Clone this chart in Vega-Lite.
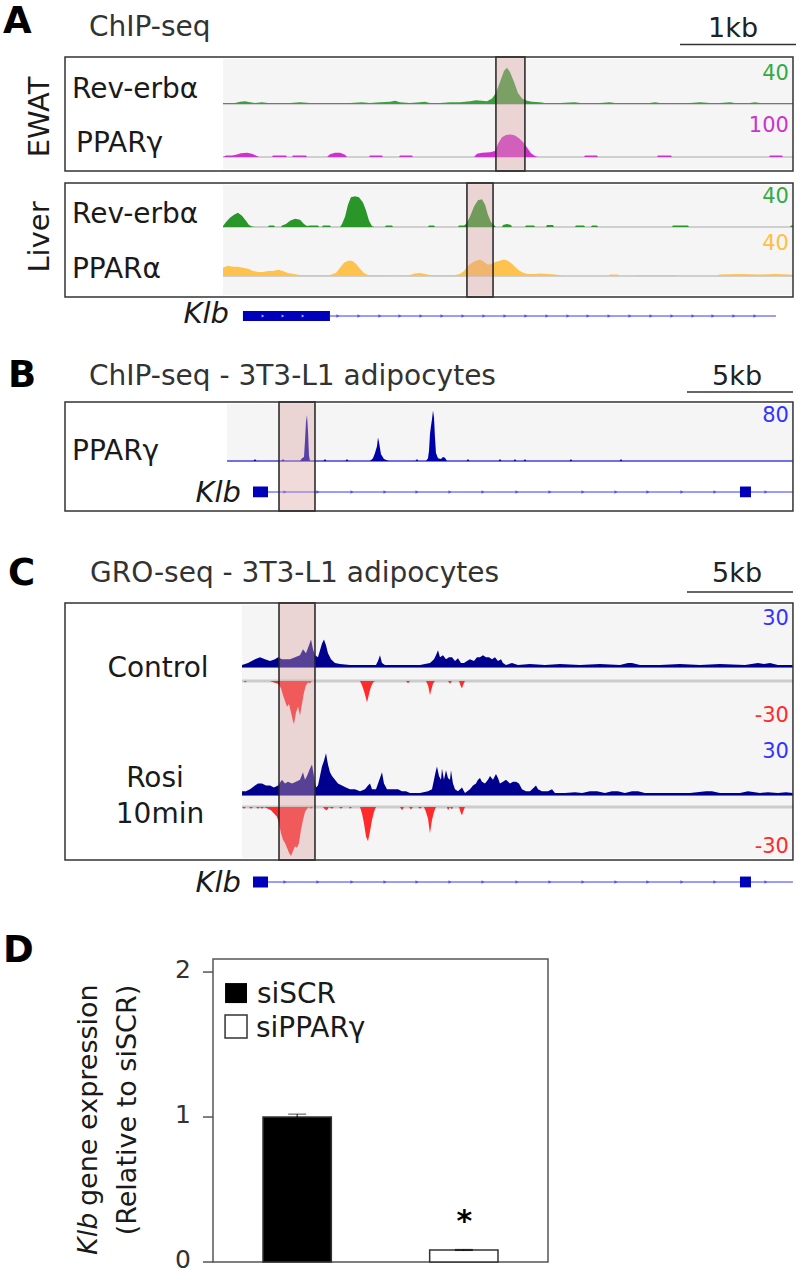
{
"$schema":"https://vega.github.io/schema/vega-lite/v6.json",
"width":798,"height":1274,"autosize":"none","padding":0,"background":"white",
"config":{"view":{"stroke":null},"text":{"font":"DejaVu Sans","color":"#1a1a1a"},"mark":{"font":"DejaVu Sans"}},
"resolve":{"scale":{"x":"independent","y":"independent","color":"independent","fill":"independent"}},
"datasets":{
"ewat_rev":[{"kb":0,"signal":1},{"kb":0.103,"signal":1},{"kb":0.147,"signal":2},{"kb":0.19,"signal":2.5},{"kb":0.233,"signal":1.5},{"kb":0.276,"signal":1},{"kb":0.336,"signal":1.5},{"kb":0.388,"signal":1},{"kb":0.578,"signal":1},{"kb":0.664,"signal":1.5},{"kb":0.75,"signal":1},{"kb":0.922,"signal":1},{"kb":1.095,"signal":1},{"kb":1.198,"signal":1.5},{"kb":1.267,"signal":1},{"kb":1.353,"signal":1.5},{"kb":1.44,"signal":2},{"kb":1.483,"signal":3},{"kb":1.526,"signal":1.5},{"kb":1.612,"signal":1},{"kb":1.698,"signal":1.5},{"kb":1.741,"signal":2},{"kb":1.784,"signal":1},{"kb":1.871,"signal":1},{"kb":1.957,"signal":1.5},{"kb":2.043,"signal":1.5},{"kb":2.129,"signal":2.5},{"kb":2.181,"signal":3.5},{"kb":2.233,"signal":3},{"kb":2.276,"signal":2.5},{"kb":2.319,"signal":5},{"kb":2.353,"signal":10},{"kb":2.388,"signal":20},{"kb":2.422,"signal":30},{"kb":2.448,"signal":33},{"kb":2.474,"signal":29},{"kb":2.509,"signal":20},{"kb":2.543,"signal":10},{"kb":2.578,"signal":5},{"kb":2.621,"signal":3},{"kb":2.664,"signal":2},{"kb":2.733,"signal":1.5},{"kb":2.776,"signal":1},{"kb":2.905,"signal":1},{"kb":3.034,"signal":1.5},{"kb":3.078,"signal":1},{"kb":3.25,"signal":1},{"kb":3.336,"signal":1.5},{"kb":3.379,"signal":1},{"kb":3.681,"signal":1},{"kb":3.724,"signal":1.5},{"kb":3.767,"signal":1},{"kb":4.026,"signal":1},{"kb":4.112,"signal":1.5},{"kb":4.198,"signal":1},{"kb":4.284,"signal":1},{"kb":4.371,"signal":1.5},{"kb":4.414,"signal":1},{"kb":4.543,"signal":1},{"kb":4.586,"signal":1.5},{"kb":4.629,"signal":1},{"kb":4.914,"signal":1}],
"ewat_pparg":[{"kb":0,"signal":0},{"kb":0.026,"signal":3},{"kb":0.078,"signal":3},{"kb":0.112,"signal":5},{"kb":0.155,"signal":8},{"kb":0.207,"signal":9},{"kb":0.25,"signal":7},{"kb":0.284,"signal":3},{"kb":0.31,"signal":0},{"kb":0.422,"signal":0},{"kb":0.431,"signal":3},{"kb":0.543,"signal":3},{"kb":0.552,"signal":0},{"kb":0.595,"signal":0},{"kb":0.603,"signal":3},{"kb":0.716,"signal":3},{"kb":0.724,"signal":0},{"kb":0.897,"signal":0},{"kb":0.922,"signal":6},{"kb":0.966,"signal":9},{"kb":1.009,"signal":9},{"kb":1.052,"signal":5},{"kb":1.069,"signal":0},{"kb":1.259,"signal":0},{"kb":1.267,"signal":3},{"kb":1.371,"signal":3},{"kb":1.379,"signal":0},{"kb":1.517,"signal":0},{"kb":1.526,"signal":3},{"kb":1.629,"signal":3},{"kb":1.638,"signal":0},{"kb":2.164,"signal":0},{"kb":2.19,"signal":7},{"kb":2.233,"signal":9},{"kb":2.302,"signal":10},{"kb":2.345,"signal":13},{"kb":2.371,"signal":28},{"kb":2.405,"signal":42},{"kb":2.44,"signal":47},{"kb":2.483,"signal":48},{"kb":2.517,"signal":46},{"kb":2.552,"signal":40},{"kb":2.586,"signal":32},{"kb":2.621,"signal":20},{"kb":2.655,"signal":8},{"kb":2.69,"signal":2},{"kb":2.716,"signal":0},{"kb":3.112,"signal":0},{"kb":3.121,"signal":3},{"kb":3.224,"signal":3},{"kb":3.233,"signal":0},{"kb":3.741,"signal":0},{"kb":3.75,"signal":3},{"kb":3.862,"signal":3},{"kb":3.871,"signal":0},{"kb":4.707,"signal":0},{"kb":4.716,"signal":3},{"kb":4.819,"signal":3},{"kb":4.828,"signal":0},{"kb":4.914,"signal":0}],
"liver_rev":[{"kb":0,"signal":1},{"kb":0.026,"signal":5},{"kb":0.06,"signal":9},{"kb":0.095,"signal":12},{"kb":0.129,"signal":14},{"kb":0.164,"signal":11},{"kb":0.198,"signal":6},{"kb":0.224,"signal":2},{"kb":0.25,"signal":0.5},{"kb":0.276,"signal":0},{"kb":0.388,"signal":0},{"kb":0.397,"signal":1.5},{"kb":0.44,"signal":1.5},{"kb":0.448,"signal":0},{"kb":0.5,"signal":0},{"kb":0.509,"signal":1.5},{"kb":0.543,"signal":3},{"kb":0.578,"signal":6},{"kb":0.621,"signal":8},{"kb":0.664,"signal":7},{"kb":0.698,"signal":3},{"kb":0.724,"signal":1},{"kb":0.75,"signal":1.5},{"kb":0.819,"signal":1.5},{"kb":0.828,"signal":0},{"kb":0.853,"signal":0},{"kb":0.862,"signal":1.5},{"kb":0.922,"signal":1.5},{"kb":0.931,"signal":0},{"kb":1.009,"signal":0},{"kb":1.026,"signal":3},{"kb":1.052,"signal":10},{"kb":1.078,"signal":22},{"kb":1.103,"signal":29},{"kb":1.138,"signal":30},{"kb":1.172,"signal":29},{"kb":1.207,"signal":24},{"kb":1.233,"signal":16},{"kb":1.259,"signal":6},{"kb":1.284,"signal":1},{"kb":1.302,"signal":0},{"kb":1.397,"signal":0},{"kb":1.405,"signal":1.5},{"kb":1.457,"signal":1.5},{"kb":1.466,"signal":0},{"kb":1.767,"signal":0},{"kb":1.776,"signal":1.5},{"kb":1.819,"signal":1.5},{"kb":1.828,"signal":0},{"kb":2.026,"signal":0},{"kb":2.034,"signal":1.5},{"kb":2.078,"signal":1.5},{"kb":2.095,"signal":3},{"kb":2.129,"signal":10},{"kb":2.164,"signal":20},{"kb":2.198,"signal":26},{"kb":2.233,"signal":27},{"kb":2.259,"signal":22},{"kb":2.284,"signal":12},{"kb":2.31,"signal":5},{"kb":2.336,"signal":2},{"kb":2.353,"signal":0},{"kb":2.405,"signal":0},{"kb":2.414,"signal":2},{"kb":2.448,"signal":3},{"kb":2.483,"signal":2},{"kb":2.491,"signal":0},{"kb":2.603,"signal":0},{"kb":2.612,"signal":1.5},{"kb":2.681,"signal":1.5},{"kb":2.69,"signal":0},{"kb":2.784,"signal":0},{"kb":2.793,"signal":2},{"kb":2.845,"signal":2},{"kb":2.853,"signal":0},{"kb":3.034,"signal":0},{"kb":3.043,"signal":1.5},{"kb":3.112,"signal":1.5},{"kb":3.121,"signal":0},{"kb":3.172,"signal":0},{"kb":3.181,"signal":1.5},{"kb":3.224,"signal":1.5},{"kb":3.233,"signal":0},{"kb":3.871,"signal":0},{"kb":3.879,"signal":1.5},{"kb":4.009,"signal":1.5},{"kb":4.017,"signal":0},{"kb":4.888,"signal":0},{"kb":4.897,"signal":1.5},{"kb":4.914,"signal":1.5}],
"liver_ppara":[{"kb":0,"signal":8},{"kb":0.043,"signal":10},{"kb":0.086,"signal":9},{"kb":0.129,"signal":9},{"kb":0.172,"signal":8},{"kb":0.216,"signal":7},{"kb":0.259,"signal":5},{"kb":0.302,"signal":4},{"kb":0.345,"signal":4},{"kb":0.388,"signal":5},{"kb":0.431,"signal":5},{"kb":0.474,"signal":6},{"kb":0.517,"signal":5},{"kb":0.56,"signal":3},{"kb":0.612,"signal":2},{"kb":0.664,"signal":1},{"kb":0.836,"signal":1},{"kb":0.922,"signal":1},{"kb":0.974,"signal":3},{"kb":1.009,"signal":8},{"kb":1.043,"signal":13},{"kb":1.078,"signal":15},{"kb":1.112,"signal":15},{"kb":1.147,"signal":12},{"kb":1.181,"signal":7},{"kb":1.216,"signal":3},{"kb":1.25,"signal":1},{"kb":1.353,"signal":1},{"kb":1.44,"signal":0.5},{"kb":1.569,"signal":0.5},{"kb":1.612,"signal":1},{"kb":1.655,"signal":2.5},{"kb":1.698,"signal":3},{"kb":1.741,"signal":2},{"kb":1.784,"signal":1},{"kb":2.0,"signal":1},{"kb":2.043,"signal":2},{"kb":2.078,"signal":5},{"kb":2.112,"signal":10},{"kb":2.147,"signal":13},{"kb":2.181,"signal":15},{"kb":2.216,"signal":16},{"kb":2.25,"signal":14},{"kb":2.284,"signal":11},{"kb":2.319,"signal":12},{"kb":2.353,"signal":14},{"kb":2.388,"signal":15},{"kb":2.422,"signal":16},{"kb":2.457,"signal":15},{"kb":2.491,"signal":12},{"kb":2.526,"signal":8},{"kb":2.56,"signal":5},{"kb":2.595,"signal":3},{"kb":2.629,"signal":2},{"kb":2.69,"signal":2},{"kb":2.733,"signal":2.5},{"kb":2.802,"signal":2},{"kb":2.862,"signal":1.5},{"kb":2.922,"signal":0.5},{"kb":2.957,"signal":0},{"kb":3.319,"signal":0},{"kb":3.336,"signal":1.5},{"kb":3.405,"signal":1.5},{"kb":3.422,"signal":0},{"kb":3.56,"signal":0},{"kb":3.569,"signal":1},{"kb":3.897,"signal":1},{"kb":3.914,"signal":0},{"kb":4.267,"signal":0},{"kb":4.276,"signal":1.5},{"kb":4.457,"signal":2},{"kb":4.629,"signal":1.5},{"kb":4.759,"signal":2},{"kb":4.888,"signal":1.5},{"kb":4.914,"signal":1}],
"b_pparg":[{"kb":0,"signal":0},{"kb":1.25,"signal":0},{"kb":1.321,"signal":3},{"kb":1.39,"signal":0},{"kb":2.57,"signal":0},{"kb":2.642,"signal":3},{"kb":2.71,"signal":0},{"kb":3.443,"signal":0},{"kb":3.538,"signal":4},{"kb":3.632,"signal":6},{"kb":3.679,"signal":30},{"kb":3.726,"signal":58},{"kb":3.774,"signal":68},{"kb":3.821,"signal":45},{"kb":3.868,"signal":8},{"kb":3.915,"signal":0},{"kb":4.55,"signal":0},{"kb":4.623,"signal":3},{"kb":4.69,"signal":0},{"kb":5.59,"signal":0},{"kb":5.66,"signal":3},{"kb":5.73,"signal":0},{"kb":6.745,"signal":0},{"kb":6.887,"signal":4},{"kb":6.981,"signal":12},{"kb":7.075,"signal":22},{"kb":7.123,"signal":35},{"kb":7.17,"signal":28},{"kb":7.264,"signal":10},{"kb":7.406,"signal":3},{"kb":7.547,"signal":1},{"kb":7.642,"signal":0},{"kb":8.89,"signal":0},{"kb":8.962,"signal":3},{"kb":9.03,"signal":0},{"kb":9.387,"signal":0},{"kb":9.481,"signal":4},{"kb":9.528,"signal":15},{"kb":9.575,"signal":40},{"kb":9.623,"signal":52},{"kb":9.67,"signal":62},{"kb":9.717,"signal":75},{"kb":9.764,"signal":65},{"kb":9.811,"signal":35},{"kb":9.858,"signal":12},{"kb":9.953,"signal":4},{"kb":10.094,"signal":3},{"kb":10.189,"signal":6},{"kb":10.283,"signal":5},{"kb":10.377,"signal":0},{"kb":11.3,"signal":0},{"kb":11.368,"signal":3},{"kb":11.44,"signal":0},{"kb":12.81,"signal":0},{"kb":12.877,"signal":3},{"kb":12.95,"signal":0},{"kb":13.52,"signal":0},{"kb":13.585,"signal":3},{"kb":13.65,"signal":0},{"kb":13.99,"signal":0},{"kb":14.057,"signal":3},{"kb":14.12,"signal":0},{"kb":16.16,"signal":0},{"kb":16.226,"signal":3},{"kb":16.29,"signal":0},{"kb":18.52,"signal":0},{"kb":18.585,"signal":3},{"kb":18.65,"signal":0},{"kb":26.7,"signal":0}],
"ctl_plus":[{"kb":0.708,"signal":1},{"kb":0.991,"signal":2},{"kb":1.321,"signal":4},{"kb":1.557,"signal":5},{"kb":1.792,"signal":4},{"kb":2.028,"signal":3},{"kb":2.264,"signal":4},{"kb":2.406,"signal":5},{"kb":2.594,"signal":4},{"kb":2.972,"signal":4},{"kb":3.208,"signal":5},{"kb":3.443,"signal":6},{"kb":3.585,"signal":9},{"kb":3.726,"signal":7},{"kb":3.868,"signal":11},{"kb":3.962,"signal":14},{"kb":4.057,"signal":9},{"kb":4.151,"signal":6},{"kb":4.292,"signal":5},{"kb":4.481,"signal":12},{"kb":4.575,"signal":14},{"kb":4.67,"signal":11},{"kb":4.764,"signal":7},{"kb":4.906,"signal":4},{"kb":5.094,"signal":2},{"kb":5.33,"signal":1.5},{"kb":5.802,"signal":1},{"kb":6.509,"signal":1},{"kb":7.028,"signal":1},{"kb":7.123,"signal":3},{"kb":7.217,"signal":6},{"kb":7.311,"signal":2},{"kb":7.453,"signal":1},{"kb":8.16,"signal":1},{"kb":9.104,"signal":1},{"kb":9.575,"signal":2},{"kb":9.764,"signal":4},{"kb":9.858,"signal":6},{"kb":9.953,"signal":8.5},{"kb":10.047,"signal":5},{"kb":10.189,"signal":6},{"kb":10.33,"signal":4},{"kb":10.472,"signal":5},{"kb":10.613,"signal":5},{"kb":10.755,"signal":3},{"kb":10.896,"signal":4.5},{"kb":11.038,"signal":2},{"kb":11.179,"signal":2},{"kb":11.321,"signal":3},{"kb":11.462,"signal":4},{"kb":11.651,"signal":3},{"kb":11.792,"signal":5},{"kb":11.934,"signal":5},{"kb":12.075,"signal":6},{"kb":12.217,"signal":5},{"kb":12.358,"signal":5},{"kb":12.5,"signal":4},{"kb":12.642,"signal":5},{"kb":12.783,"signal":3},{"kb":12.925,"signal":4},{"kb":13.019,"signal":2},{"kb":13.16,"signal":1},{"kb":13.443,"signal":2},{"kb":13.726,"signal":1},{"kb":14.292,"signal":1.5},{"kb":15.0,"signal":1},{"kb":15.708,"signal":1.5},{"kb":16.651,"signal":1},{"kb":17.594,"signal":1.5},{"kb":18.538,"signal":1},{"kb":18.915,"signal":2},{"kb":19.104,"signal":2},{"kb":19.481,"signal":1},{"kb":20.425,"signal":1},{"kb":21.368,"signal":1.5},{"kb":22.311,"signal":1},{"kb":23.255,"signal":1.5},{"kb":24.434,"signal":1},{"kb":25.047,"signal":2},{"kb":25.33,"signal":1.5},{"kb":25.613,"signal":2},{"kb":25.991,"signal":1},{"kb":26.698,"signal":1}],
"ctl_minus":[{"kb":0.708,"signal":0},{"kb":0.8,"signal":0},{"kb":0.849,"signal":-1},{"kb":0.943,"signal":0},{"kb":2.028,"signal":0},{"kb":2.217,"signal":-1},{"kb":2.406,"signal":-2},{"kb":2.547,"signal":-5},{"kb":2.642,"signal":-10},{"kb":2.736,"signal":-14},{"kb":2.83,"signal":-18},{"kb":2.925,"signal":-16},{"kb":3.019,"signal":-22},{"kb":3.113,"signal":-28},{"kb":3.16,"signal":-30},{"kb":3.255,"signal":-22},{"kb":3.349,"signal":-18},{"kb":3.443,"signal":-24},{"kb":3.538,"signal":-16},{"kb":3.632,"signal":-8},{"kb":3.726,"signal":-3},{"kb":3.821,"signal":-1},{"kb":3.915,"signal":-1.5},{"kb":4.009,"signal":0},{"kb":6.274,"signal":0},{"kb":6.368,"signal":-3},{"kb":6.462,"signal":-7},{"kb":6.557,"signal":-12},{"kb":6.604,"signal":-15},{"kb":6.698,"signal":-9},{"kb":6.792,"signal":-4},{"kb":6.887,"signal":-1},{"kb":6.981,"signal":0},{"kb":8.443,"signal":0},{"kb":8.538,"signal":-1.5},{"kb":8.632,"signal":0},{"kb":9.387,"signal":0},{"kb":9.481,"signal":-3},{"kb":9.528,"signal":-6},{"kb":9.575,"signal":-10},{"kb":9.623,"signal":-7},{"kb":9.717,"signal":-2},{"kb":9.811,"signal":0},{"kb":10.425,"signal":0},{"kb":10.519,"signal":-2},{"kb":10.613,"signal":0},{"kb":10.943,"signal":0},{"kb":11.038,"signal":-4},{"kb":11.085,"signal":-5},{"kb":11.132,"signal":-3},{"kb":11.226,"signal":0},{"kb":26.698,"signal":0}],
"rosi_plus":[{"kb":0.708,"signal":2},{"kb":0.896,"signal":2},{"kb":1.085,"signal":3},{"kb":1.321,"signal":5},{"kb":1.462,"signal":6},{"kb":1.651,"signal":6},{"kb":1.84,"signal":5},{"kb":2.028,"signal":5},{"kb":2.217,"signal":4},{"kb":2.406,"signal":5},{"kb":2.594,"signal":8},{"kb":2.736,"signal":6},{"kb":2.877,"signal":7},{"kb":3.066,"signal":6},{"kb":3.255,"signal":7},{"kb":3.443,"signal":8},{"kb":3.585,"signal":12},{"kb":3.679,"signal":8},{"kb":3.774,"signal":10},{"kb":3.915,"signal":14},{"kb":4.009,"signal":16},{"kb":4.104,"signal":10},{"kb":4.198,"signal":4},{"kb":4.292,"signal":5},{"kb":4.387,"signal":10},{"kb":4.481,"signal":15},{"kb":4.575,"signal":18},{"kb":4.67,"signal":22},{"kb":4.764,"signal":16},{"kb":4.858,"signal":12},{"kb":4.953,"signal":10},{"kb":5.094,"signal":8},{"kb":5.236,"signal":6},{"kb":5.425,"signal":5},{"kb":5.613,"signal":4},{"kb":5.802,"signal":3},{"kb":6.038,"signal":3},{"kb":6.274,"signal":2},{"kb":6.509,"signal":3},{"kb":6.651,"signal":5},{"kb":6.745,"signal":6},{"kb":6.84,"signal":3},{"kb":7.028,"signal":3},{"kb":7.217,"signal":9},{"kb":7.311,"signal":12},{"kb":7.406,"signal":6},{"kb":7.547,"signal":3},{"kb":7.783,"signal":3},{"kb":8.066,"signal":3},{"kb":8.255,"signal":2},{"kb":8.443,"signal":2},{"kb":8.632,"signal":1},{"kb":9.104,"signal":1},{"kb":9.481,"signal":2},{"kb":9.67,"signal":3},{"kb":9.764,"signal":8},{"kb":9.858,"signal":13},{"kb":9.906,"signal":15},{"kb":10.0,"signal":10},{"kb":10.094,"signal":8},{"kb":10.142,"signal":14},{"kb":10.236,"signal":8},{"kb":10.33,"signal":13},{"kb":10.425,"signal":9},{"kb":10.519,"signal":8},{"kb":10.566,"signal":13},{"kb":10.66,"signal":6},{"kb":10.755,"signal":3},{"kb":10.896,"signal":2},{"kb":11.085,"signal":4},{"kb":11.226,"signal":1},{"kb":11.462,"signal":3},{"kb":11.604,"signal":5},{"kb":11.745,"signal":6},{"kb":11.84,"signal":8},{"kb":11.934,"signal":9},{"kb":12.028,"signal":7},{"kb":12.17,"signal":6},{"kb":12.311,"signal":8},{"kb":12.406,"signal":10},{"kb":12.547,"signal":8},{"kb":12.689,"signal":11},{"kb":12.783,"signal":9},{"kb":12.877,"signal":6},{"kb":13.019,"signal":7},{"kb":13.16,"signal":8},{"kb":13.349,"signal":6},{"kb":13.491,"signal":7},{"kb":13.632,"signal":7},{"kb":13.774,"signal":6},{"kb":13.915,"signal":3},{"kb":14.104,"signal":2},{"kb":14.292,"signal":2},{"kb":14.481,"signal":4},{"kb":14.575,"signal":5},{"kb":14.67,"signal":3},{"kb":14.858,"signal":2},{"kb":15.142,"signal":2},{"kb":15.33,"signal":3},{"kb":15.472,"signal":1},{"kb":15.943,"signal":1},{"kb":16.415,"signal":1.5},{"kb":16.745,"signal":1},{"kb":17.123,"signal":2},{"kb":17.453,"signal":2},{"kb":17.83,"signal":1},{"kb":18.16,"signal":2},{"kb":18.443,"signal":2},{"kb":18.774,"signal":1},{"kb":19.104,"signal":2},{"kb":19.387,"signal":2},{"kb":19.717,"signal":1},{"kb":20.66,"signal":1},{"kb":21.84,"signal":1},{"kb":22.594,"signal":2},{"kb":22.877,"signal":2},{"kb":23.255,"signal":1},{"kb":24.198,"signal":1},{"kb":24.575,"signal":2},{"kb":25.142,"signal":1},{"kb":25.519,"signal":1.5},{"kb":25.991,"signal":1},{"kb":26.368,"signal":1.5},{"kb":26.698,"signal":1}],
"rosi_minus":[{"kb":0.708,"signal":0},{"kb":0.802,"signal":-1},{"kb":0.896,"signal":0},{"kb":1.038,"signal":0},{"kb":1.132,"signal":-1},{"kb":1.226,"signal":0},{"kb":1.368,"signal":0},{"kb":1.462,"signal":-1},{"kb":1.557,"signal":0},{"kb":1.651,"signal":-1},{"kb":1.745,"signal":0},{"kb":1.934,"signal":-1},{"kb":2.075,"signal":-2},{"kb":2.217,"signal":-4},{"kb":2.358,"signal":-6},{"kb":2.453,"signal":-10},{"kb":2.547,"signal":-16},{"kb":2.642,"signal":-20},{"kb":2.736,"signal":-22},{"kb":2.83,"signal":-25},{"kb":2.925,"signal":-28},{"kb":3.019,"signal":-30},{"kb":3.113,"signal":-27},{"kb":3.208,"signal":-24},{"kb":3.302,"signal":-25},{"kb":3.396,"signal":-22},{"kb":3.491,"signal":-14},{"kb":3.585,"signal":-8},{"kb":3.679,"signal":-3},{"kb":3.774,"signal":-1},{"kb":3.868,"signal":0},{"kb":3.962,"signal":-1},{"kb":4.057,"signal":0},{"kb":4.528,"signal":0},{"kb":4.623,"signal":-1.5},{"kb":4.717,"signal":-2},{"kb":4.811,"signal":0},{"kb":4.953,"signal":-1},{"kb":5.047,"signal":0},{"kb":5.283,"signal":0},{"kb":5.377,"signal":-1},{"kb":5.472,"signal":0},{"kb":5.755,"signal":0},{"kb":5.802,"signal":-1},{"kb":5.896,"signal":0},{"kb":6.274,"signal":0},{"kb":6.368,"signal":-4},{"kb":6.462,"signal":-10},{"kb":6.557,"signal":-18},{"kb":6.651,"signal":-21},{"kb":6.745,"signal":-15},{"kb":6.84,"signal":-8},{"kb":6.934,"signal":-3},{"kb":7.028,"signal":0},{"kb":8.16,"signal":0},{"kb":8.255,"signal":-2},{"kb":8.349,"signal":0},{"kb":8.585,"signal":0},{"kb":8.679,"signal":-1.5},{"kb":8.774,"signal":0},{"kb":9.009,"signal":0},{"kb":9.104,"signal":-1},{"kb":9.198,"signal":0},{"kb":9.292,"signal":0},{"kb":9.387,"signal":-3},{"kb":9.481,"signal":-7},{"kb":9.575,"signal":-16},{"kb":9.67,"signal":-8},{"kb":9.764,"signal":-3},{"kb":9.858,"signal":0},{"kb":10.377,"signal":0},{"kb":10.425,"signal":-2},{"kb":10.519,"signal":0},{"kb":10.613,"signal":-1.5},{"kb":10.66,"signal":0},{"kb":10.943,"signal":0},{"kb":11.038,"signal":-4},{"kb":11.085,"signal":-5},{"kb":11.132,"signal":-3},{"kb":11.226,"signal":0},{"kb":26.698,"signal":0}],
"expr":[{"group":"siSCR","mean":1.0,"sd":0.02,"sig":""},{"group":"siPPARγ","mean":0.083,"sd":0.004,"sig":"*"}]
},
"layer":[
{"data":{"values":[{"tissue":"EWAT","from":0,"to":4.914,"top":17.88,"bottom":51.21},{"tissue":"Liver","from":0,"to":4.914,"top":56.06,"bottom":89.39}]},"mark":{"type":"rect","color":"#f5f5f5"},"encoding":{"x":{"field":"from","type":"quantitative","scale":{"domain":[0,4.914],"range":[223,793],"nice":false,"zero":false},"axis":null},"x2":{"field":"to"},"y":{"field":"top","type":"quantitative","scale":{"domain":[0,100],"range":[0,330],"nice":false,"zero":false},"axis":null},"y2":{"field":"bottom"}}},

{"data":{"values":[{}]},"mark":{"type":"rule","color":"#cfcfcf","strokeWidth":2},"encoding":{"x":{"datum":0,"type":"quantitative","scale":{"domain":[0,4.914],"range":[223,793],"nice":false,"zero":false},"axis":null},"x2":{"datum":4.914},"y":{"datum":0,"type":"quantitative","scale":{"domain":[0,40],"range":[104,60],"nice":false,"zero":false},"axis":null}}},
{"data":{"name":"ewat_rev"},"mark":{"type":"area","color":"#3d9e3d","interpolate":"linear","orient":"vertical"},"encoding":{"x":{"field":"kb","type":"quantitative","scale":{"domain":[0,4.914],"range":[223,793],"nice":false,"zero":false},"axis":null},"y":{"field":"signal","type":"quantitative","scale":{"domain":[0,40],"range":[104,60],"nice":false,"zero":false},"axis":null}}},
{"data":{"values":[{}]},"mark":{"type":"rule","color":"#cfcfcf","strokeWidth":2},"encoding":{"x":{"datum":0,"type":"quantitative","scale":{"domain":[0,4.914],"range":[223,793],"nice":false,"zero":false},"axis":null},"x2":{"datum":4.914},"y":{"datum":0,"type":"quantitative","scale":{"domain":[0,100],"range":[157,110],"nice":false,"zero":false},"axis":null}}},
{"data":{"name":"ewat_pparg"},"mark":{"type":"area","color":"#cc33cc","interpolate":"linear","orient":"vertical"},"encoding":{"x":{"field":"kb","type":"quantitative","scale":{"domain":[0,4.914],"range":[223,793],"nice":false,"zero":false},"axis":null},"y":{"field":"signal","type":"quantitative","scale":{"domain":[0,100],"range":[157,110],"nice":false,"zero":false},"axis":null}}},
{"data":{"values":[{}]},"mark":{"type":"rule","color":"#cfcfcf","strokeWidth":2},"encoding":{"x":{"datum":0,"type":"quantitative","scale":{"domain":[0,4.914],"range":[223,793],"nice":false,"zero":false},"axis":null},"x2":{"datum":4.914},"y":{"datum":0,"type":"quantitative","scale":{"domain":[0,40],"range":[227,186],"nice":false,"zero":false},"axis":null}}},
{"data":{"name":"liver_rev"},"mark":{"type":"area","color":"#2a962a","interpolate":"linear","orient":"vertical"},"encoding":{"x":{"field":"kb","type":"quantitative","scale":{"domain":[0,4.914],"range":[223,793],"nice":false,"zero":false},"axis":null},"y":{"field":"signal","type":"quantitative","scale":{"domain":[0,40],"range":[227,186],"nice":false,"zero":false},"axis":null}}},
{"data":{"values":[{}]},"mark":{"type":"rule","color":"#cfcfcf","strokeWidth":2},"encoding":{"x":{"datum":0,"type":"quantitative","scale":{"domain":[0,4.914],"range":[223,793],"nice":false,"zero":false},"axis":null},"x2":{"datum":4.914},"y":{"datum":0,"type":"quantitative","scale":{"domain":[0,40],"range":[276,235],"nice":false,"zero":false},"axis":null}}},
{"data":{"name":"liver_ppara"},"mark":{"type":"area","color":"#ffc34d","interpolate":"linear","orient":"vertical"},"encoding":{"x":{"field":"kb","type":"quantitative","scale":{"domain":[0,4.914],"range":[223,793],"nice":false,"zero":false},"axis":null},"y":{"field":"signal","type":"quantitative","scale":{"domain":[0,40],"range":[276,235],"nice":false,"zero":false},"axis":null}}},

{"data":{"values":[{"tissue":"EWAT","start":2.353,"end":2.603,"top":17.27,"bottom":51.82},{"tissue":"Liver","start":2.103,"end":2.328,"top":55.45,"bottom":90.0}]},"mark":{"type":"rect","fill":"#d9a3a3","fillOpacity":0.4,"stroke":"#222222","strokeWidth":1.5},"encoding":{"x":{"field":"start","type":"quantitative","scale":{"domain":[0,4.914],"range":[223,793],"nice":false,"zero":false},"axis":null},"x2":{"field":"end"},"y":{"field":"top","type":"quantitative","scale":{"domain":[0,100],"range":[0,330],"nice":false,"zero":false},"axis":null},"y2":{"field":"bottom"}}},
{"data":{"values":[{"tissue":"EWAT","start":-1.362,"end":4.914,"top":17.27,"bottom":51.82},{"tissue":"Liver","start":-1.362,"end":4.914,"top":55.45,"bottom":90.0}]},"mark":{"type":"rect","fillOpacity":0,"stroke":"#333333","strokeWidth":1.5},"encoding":{"x":{"field":"start","type":"quantitative","scale":{"domain":[0,4.914],"range":[223,793],"nice":false,"zero":false},"axis":null},"x2":{"field":"end"},"y":{"field":"top","type":"quantitative","scale":{"domain":[0,100],"range":[0,330],"nice":false,"zero":false},"axis":null},"y2":{"field":"bottom"}}},
{"data":{"values":[{"tissue":"EWAT","row":35.45},{"tissue":"Liver","row":71.82}]},"mark":{"type":"text","angle":270,"align":"center","baseline":"middle","fontSize":29},"encoding":{"x":{"datum":-1.58,"type":"quantitative","scale":{"domain":[0,4.914],"range":[223,793],"nice":false,"zero":false},"axis":null},"y":{"field":"row","type":"quantitative","scale":{"domain":[0,100],"range":[0,330],"nice":false,"zero":false},"axis":null},"text":{"field":"tissue"}}},
{"data":{"values":[{"factor":"Rev-erbα","kb":-1.302,"row":29.7},{"factor":"PPARγ","kb":-1.267,"row":46.06},{"factor":"Rev-erbα","kb":-1.302,"row":67.58},{"factor":"PPARα","kb":-1.302,"row":84.24}]},"mark":{"type":"text","align":"left","baseline":"alphabetic","fontSize":28},"encoding":{"x":{"field":"kb","type":"quantitative","scale":{"domain":[0,4.914],"range":[223,793],"nice":false,"zero":false},"axis":null},"y":{"field":"row","type":"quantitative","scale":{"domain":[0,100],"range":[0,330],"nice":false,"zero":false},"axis":null},"text":{"field":"factor"}}},
{"data":{"values":[{"track":"EWAT Rev-erbα","max":"40","row":24.24},{"track":"EWAT PPARγ","max":"100","row":40.0},{"track":"Liver Rev-erbα","max":"40","row":61.52},{"track":"Liver PPARα","max":"40","row":75.76}]},"mark":{"type":"text","align":"right","baseline":"alphabetic","fontSize":21},"encoding":{"x":{"datum":4.879,"type":"quantitative","scale":{"domain":[0,4.914],"range":[223,793],"nice":false,"zero":false},"axis":null},"y":{"field":"row","type":"quantitative","scale":{"domain":[0,100],"range":[0,330],"nice":false,"zero":false},"axis":null},"text":{"field":"max"},"color":{"field":"track","type":"nominal","scale":{"domain":["EWAT Rev-erbα","EWAT PPARγ","Liver Rev-erbα","Liver PPARα"],"range":["#33aa44","#cc33cc","#33aa44","#ffbf40"]},"legend":null}}},
{"data":{"values":[{}]},"mark":{"type":"rule","color":"#7b7bff","strokeWidth":1.5},"encoding":{"x":{"datum":0.922,"type":"quantitative","scale":{"domain":[0,4.914],"range":[223,793],"nice":false,"zero":false},"axis":null},"x2":{"datum":4.767},"y":{"datum":95.76,"type":"quantitative","scale":{"domain":[0,100],"range":[0,330],"nice":false,"zero":false},"axis":null}}},
{"data":{"values":[{"feature":"exon","start":0.172,"end":0.922}]},"mark":{"type":"rect","color":"#0000bb"},"encoding":{"x":{"field":"start","type":"quantitative","scale":{"domain":[0,4.914],"range":[223,793],"nice":false,"zero":false},"axis":null},"x2":{"field":"end"},"y":{"datum":94.24,"type":"quantitative","scale":{"domain":[0,100],"range":[0,330],"nice":false,"zero":false},"axis":null},"y2":{"datum":97.27}}},
{"data":{"values":[{"kb":0.991},{"kb":1.172},{"kb":1.353},{"kb":1.526},{"kb":1.707},{"kb":1.888},{"kb":2.069},{"kb":2.25},{"kb":2.431},{"kb":2.612},{"kb":2.793},{"kb":2.974},{"kb":3.147},{"kb":3.328},{"kb":3.509},{"kb":3.69},{"kb":3.871},{"kb":4.052},{"kb":4.224},{"kb":4.405},{"kb":4.586}]},"mark":{"type":"point","shape":"triangle-right","filled":true,"size":12,"color":"#4d4dff","opacity":1},"encoding":{"x":{"field":"kb","type":"quantitative","scale":{"domain":[0,4.914],"range":[223,793],"nice":false,"zero":false},"axis":null},"y":{"datum":95.76,"type":"quantitative","scale":{"domain":[0,100],"range":[0,330],"nice":false,"zero":false},"axis":null}}},
{"data":{"values":[{"kb":0.345},{"kb":0.517},{"kb":0.69}]},"mark":{"type":"point","shape":"triangle-right","filled":true,"size":10,"color":"#b0b0ff","opacity":1},"encoding":{"x":{"field":"kb","type":"quantitative","scale":{"domain":[0,4.914],"range":[223,793],"nice":false,"zero":false},"axis":null},"y":{"datum":95.76,"type":"quantitative","scale":{"domain":[0,100],"range":[0,330],"nice":false,"zero":false},"axis":null}}},
{"data":{"values":[{}]},"mark":{"type":"text","text":"Klb","fontStyle":"italic","fontSize":29,"align":"right","baseline":"alphabetic"},"encoding":{"x":{"datum":0.052,"type":"quantitative","scale":{"domain":[0,4.914],"range":[223,793],"nice":false,"zero":false},"axis":null},"y":{"datum":97.88,"type":"quantitative","scale":{"domain":[0,100],"range":[0,330],"nice":false,"zero":false},"axis":null}}},
{"data":{"values":[{}]},"mark":{"type":"text","text":"A","fontWeight":"bold","fontSize":37,"align":"left","baseline":"alphabetic","color":"#000"},"encoding":{"x":{"datum":-1.897,"type":"quantitative","scale":{"domain":[0,4.914],"range":[223,793],"nice":false,"zero":false},"axis":null},"y":{"datum":10.0,"type":"quantitative","scale":{"domain":[0,100],"range":[0,330],"nice":false,"zero":false},"axis":null}}},
{"data":{"values":[{}]},"mark":{"type":"text","text":"ChIP-seq","fontSize":28,"align":"left","baseline":"alphabetic","color":"#333"},"encoding":{"x":{"datum":-1.155,"type":"quantitative","scale":{"domain":[0,4.914],"range":[223,793],"nice":false,"zero":false},"axis":null},"y":{"datum":10.91,"type":"quantitative","scale":{"domain":[0,100],"range":[0,330],"nice":false,"zero":false},"axis":null}}},
{"data":{"values":[{}]},"mark":{"type":"text","text":"1kb","fontSize":27,"align":"center","baseline":"alphabetic","color":"#222"},"encoding":{"x":{"datum":4.397,"type":"quantitative","scale":{"domain":[0,4.914],"range":[223,793],"nice":false,"zero":false},"axis":null},"y":{"datum":11.1,"type":"quantitative","scale":{"domain":[0,100],"range":[0,330],"nice":false,"zero":false},"axis":null}}},
{"data":{"values":[{}]},"mark":{"type":"rule","color":"#333","strokeWidth":1.5},"encoding":{"x":{"datum":3.94,"type":"quantitative","scale":{"domain":[0,4.914],"range":[223,793],"nice":false,"zero":false},"axis":null},"x2":{"datum":4.94},"y":{"datum":13.5,"type":"quantitative","scale":{"domain":[0,100],"range":[0,330],"nice":false,"zero":false},"axis":null}}},

{"data":{"values":[{}]},"mark":{"type":"rect","color":"#f5f5f5"},"encoding":{"x":{"datum":0,"type":"quantitative","scale":{"domain":[0,26.7],"range":[227,793],"nice":false,"zero":false},"axis":null},"x2":{"datum":26.698},"y":{"datum":30.63,"type":"quantitative","scale":{"domain":[0,100],"range":[355,515],"nice":false,"zero":false},"axis":null},"y2":{"datum":66.88}}},
{"data":{"values":[{}]},"mark":{"type":"rule","color":"#4444dd","strokeWidth":1.5},"encoding":{"x":{"datum":0,"type":"quantitative","scale":{"domain":[0,26.7],"range":[227,793],"nice":false,"zero":false},"axis":null},"x2":{"datum":26.698},"y":{"datum":0,"type":"quantitative","scale":{"domain":[0,80],"range":[461,407],"nice":false,"zero":false},"axis":null}}},
{"data":{"name":"b_pparg"},"mark":{"type":"area","color":"#0000aa","interpolate":"linear","orient":"vertical"},"encoding":{"x":{"field":"kb","type":"quantitative","scale":{"domain":[0,26.7],"range":[227,793],"nice":false,"zero":false},"axis":null},"y":{"field":"signal","type":"quantitative","scale":{"domain":[0,80],"range":[461,407],"nice":false,"zero":false},"axis":null}}},
{"data":{"values":[{}]},"mark":{"type":"rule","color":"#7b7bff","strokeWidth":1.5},"encoding":{"x":{"datum":1.934,"type":"quantitative","scale":{"domain":[0,26.7],"range":[227,793],"nice":false,"zero":false},"axis":null},"x2":{"datum":26.698},"y":{"datum":85.63,"type":"quantitative","scale":{"domain":[0,100],"range":[355,515],"nice":false,"zero":false},"axis":null}}},
{"data":{"values":[{"feature":"exon 1","start":1.226,"end":1.934},{"feature":"last exon","start":24.198,"end":24.717}]},"mark":{"type":"rect","color":"#0000bb"},"encoding":{"x":{"field":"start","type":"quantitative","scale":{"domain":[0,26.7],"range":[227,793],"nice":false,"zero":false},"axis":null},"x2":{"field":"end"},"y":{"datum":82.2,"type":"quantitative","scale":{"domain":[0,100],"range":[355,515],"nice":false,"zero":false},"axis":null},"y2":{"datum":88.9}}},
{"data":{"values":[{"kb":2.736},{"kb":4.292},{"kb":5.896},{"kb":7.453},{"kb":8.962},{"kb":10.519},{"kb":12.075},{"kb":13.679},{"kb":15.236},{"kb":16.792},{"kb":18.349},{"kb":19.858},{"kb":21.462},{"kb":23.019},{"kb":25.425}]},"mark":{"type":"point","shape":"triangle-right","filled":true,"size":12,"color":"#4d4dff","opacity":1},"encoding":{"x":{"field":"kb","type":"quantitative","scale":{"domain":[0,26.7],"range":[227,793],"nice":false,"zero":false},"axis":null},"y":{"datum":85.63,"type":"quantitative","scale":{"domain":[0,100],"range":[355,515],"nice":false,"zero":false},"axis":null}}},
{"data":{"values":[{}]},"mark":{"type":"rect","fill":"#d9a3a3","fillOpacity":0.4,"stroke":"#222222","strokeWidth":1.5},"encoding":{"x":{"datum":2.453,"type":"quantitative","scale":{"domain":[0,26.7],"range":[227,793],"nice":false,"zero":false},"axis":null},"x2":{"datum":4.151},"y":{"datum":29.38,"type":"quantitative","scale":{"domain":[0,100],"range":[355,515],"nice":false,"zero":false},"axis":null},"y2":{"datum":97.5}}},
{"data":{"values":[{}]},"mark":{"type":"rect","fillOpacity":0,"stroke":"#333333","strokeWidth":1.5},"encoding":{"x":{"datum":-7.642,"type":"quantitative","scale":{"domain":[0,26.7],"range":[227,793],"nice":false,"zero":false},"axis":null},"x2":{"datum":26.698},"y":{"datum":29.38,"type":"quantitative","scale":{"domain":[0,100],"range":[355,515],"nice":false,"zero":false},"axis":null},"y2":{"datum":97.5}}},
{"data":{"values":[{}]},"mark":{"type":"text","text":"PPARγ","fontSize":28,"align":"left","baseline":"alphabetic"},"encoding":{"x":{"datum":-7.311,"type":"quantitative","scale":{"domain":[0,26.7],"range":[227,793],"nice":false,"zero":false},"axis":null},"y":{"datum":65.63,"type":"quantitative","scale":{"domain":[0,100],"range":[355,515],"nice":false,"zero":false},"axis":null}}},
{"data":{"values":[{}]},"mark":{"type":"text","text":"80","fontSize":21,"align":"right","baseline":"alphabetic","color":"#3333ff"},"encoding":{"x":{"datum":26.509,"type":"quantitative","scale":{"domain":[0,26.7],"range":[227,793],"nice":false,"zero":false},"axis":null},"y":{"datum":41.88,"type":"quantitative","scale":{"domain":[0,100],"range":[355,515],"nice":false,"zero":false},"axis":null}}},
{"data":{"values":[{}]},"mark":{"type":"text","text":"Klb","fontStyle":"italic","fontSize":29,"align":"right","baseline":"alphabetic"},"encoding":{"x":{"datum":0.66,"type":"quantitative","scale":{"domain":[0,26.7],"range":[227,793],"nice":false,"zero":false},"axis":null},"y":{"datum":91.88,"type":"quantitative","scale":{"domain":[0,100],"range":[355,515],"nice":false,"zero":false},"axis":null}}},
{"data":{"values":[{}]},"mark":{"type":"text","text":"B","fontWeight":"bold","fontSize":37,"align":"left","baseline":"alphabetic","color":"#000"},"encoding":{"x":{"datum":-10.33,"type":"quantitative","scale":{"domain":[0,26.7],"range":[227,793],"nice":false,"zero":false},"axis":null},"y":{"datum":20.0,"type":"quantitative","scale":{"domain":[0,100],"range":[355,515],"nice":false,"zero":false},"axis":null}}},
{"data":{"values":[{}]},"mark":{"type":"text","text":"ChIP-seq - 3T3-L1 adipocytes","fontSize":28,"align":"left","baseline":"alphabetic","color":"#333"},"encoding":{"x":{"datum":-6.509,"type":"quantitative","scale":{"domain":[0,26.7],"range":[227,793],"nice":false,"zero":false},"axis":null},"y":{"datum":18.75,"type":"quantitative","scale":{"domain":[0,100],"range":[355,515],"nice":false,"zero":false},"axis":null}}},
{"data":{"values":[{}]},"mark":{"type":"text","text":"5kb","fontSize":27,"align":"center","baseline":"alphabetic","color":"#222"},"encoding":{"x":{"datum":24.06,"type":"quantitative","scale":{"domain":[0,26.7],"range":[227,793],"nice":false,"zero":false},"axis":null},"y":{"datum":18.75,"type":"quantitative","scale":{"domain":[0,100],"range":[355,515],"nice":false,"zero":false},"axis":null}}},
{"data":{"values":[{}]},"mark":{"type":"rule","color":"#333","strokeWidth":1.5},"encoding":{"x":{"datum":21.698,"type":"quantitative","scale":{"domain":[0,26.7],"range":[227,793],"nice":false,"zero":false},"axis":null},"x2":{"datum":26.698},"y":{"datum":23.13,"type":"quantitative","scale":{"domain":[0,100],"range":[355,515],"nice":false,"zero":false},"axis":null}}},

{"data":{"values":[{}]},"mark":{"type":"rect","color":"#f5f5f5"},"encoding":{"x":{"datum":0.708,"type":"quantitative","scale":{"domain":[0,26.7],"range":[227,793],"nice":false,"zero":false},"axis":null},"x2":{"datum":26.698},"y":{"datum":15.71,"type":"quantitative","scale":{"domain":[0,100],"range":[550,900],"nice":false,"zero":false},"axis":null},"y2":{"datum":88.0}}},
{"data":{"values":[{}]},"mark":{"type":"rule","color":"#3a3ac8","strokeWidth":1.5},"encoding":{"x":{"datum":0.708,"type":"quantitative","scale":{"domain":[0,26.7],"range":[227,793],"nice":false,"zero":false},"axis":null},"x2":{"datum":26.698},"y":{"datum":0,"type":"quantitative","scale":{"domain":[0,30],"range":[667,608],"nice":false,"zero":false},"axis":null}}},
{"data":{"name":"ctl_plus"},"mark":{"type":"area","color":"#00008f","interpolate":"linear","orient":"vertical"},"encoding":{"x":{"field":"kb","type":"quantitative","scale":{"domain":[0,26.7],"range":[227,793],"nice":false,"zero":false},"axis":null},"y":{"field":"signal","type":"quantitative","scale":{"domain":[0,30],"range":[667,608],"nice":false,"zero":false},"axis":null}}},
{"data":{"values":[{}]},"mark":{"type":"rule","color":"#cccccc","strokeWidth":3},"encoding":{"x":{"datum":0.708,"type":"quantitative","scale":{"domain":[0,26.7],"range":[227,793],"nice":false,"zero":false},"axis":null},"x2":{"datum":26.698},"y":{"datum":0,"type":"quantitative","scale":{"domain":[-30,0],"range":[724,681],"nice":false,"zero":false},"axis":null}}},
{"data":{"name":"ctl_minus"},"mark":{"type":"area","color":"#ff2a2a","interpolate":"linear","orient":"vertical"},"encoding":{"x":{"field":"kb","type":"quantitative","scale":{"domain":[0,26.7],"range":[227,793],"nice":false,"zero":false},"axis":null},"y":{"field":"signal","type":"quantitative","scale":{"domain":[-30,0],"range":[724,681],"nice":false,"zero":false},"axis":null},"y2":{"datum":0}}},
{"data":{"values":[{}]},"mark":{"type":"rule","color":"#3a3ac8","strokeWidth":1.5},"encoding":{"x":{"datum":0.708,"type":"quantitative","scale":{"domain":[0,26.7],"range":[227,793],"nice":false,"zero":false},"axis":null},"x2":{"datum":26.698},"y":{"datum":0,"type":"quantitative","scale":{"domain":[0,30],"range":[795,738],"nice":false,"zero":false},"axis":null}}},
{"data":{"name":"rosi_plus"},"mark":{"type":"area","color":"#00008f","interpolate":"linear","orient":"vertical"},"encoding":{"x":{"field":"kb","type":"quantitative","scale":{"domain":[0,26.7],"range":[227,793],"nice":false,"zero":false},"axis":null},"y":{"field":"signal","type":"quantitative","scale":{"domain":[0,30],"range":[795,738],"nice":false,"zero":false},"axis":null}}},
{"data":{"values":[{}]},"mark":{"type":"rule","color":"#cccccc","strokeWidth":3},"encoding":{"x":{"datum":0.708,"type":"quantitative","scale":{"domain":[0,26.7],"range":[227,793],"nice":false,"zero":false},"axis":null},"x2":{"datum":26.698},"y":{"datum":0,"type":"quantitative","scale":{"domain":[-30,0],"range":[856,807],"nice":false,"zero":false},"axis":null}}},
{"data":{"name":"rosi_minus"},"mark":{"type":"area","color":"#ff2a2a","interpolate":"linear","orient":"vertical"},"encoding":{"x":{"field":"kb","type":"quantitative","scale":{"domain":[0,26.7],"range":[227,793],"nice":false,"zero":false},"axis":null},"y":{"field":"signal","type":"quantitative","scale":{"domain":[-30,0],"range":[856,807],"nice":false,"zero":false},"axis":null},"y2":{"datum":0}}},
{"data":{"values":[{}]},"mark":{"type":"rect","fill":"#d9a3a3","fillOpacity":0.4,"stroke":"#222222","strokeWidth":1.5},"encoding":{"x":{"datum":2.453,"type":"quantitative","scale":{"domain":[0,26.7],"range":[227,793],"nice":false,"zero":false},"axis":null},"x2":{"datum":4.151},"y":{"datum":15.14,"type":"quantitative","scale":{"domain":[0,100],"range":[550,900],"nice":false,"zero":false},"axis":null},"y2":{"datum":88.57}}},
{"data":{"values":[{}]},"mark":{"type":"rect","fillOpacity":0,"stroke":"#333333","strokeWidth":1.5},"encoding":{"x":{"datum":-7.642,"type":"quantitative","scale":{"domain":[0,26.7],"range":[227,793],"nice":false,"zero":false},"axis":null},"x2":{"datum":26.698},"y":{"datum":15.14,"type":"quantitative","scale":{"domain":[0,100],"range":[550,900],"nice":false,"zero":false},"axis":null},"y2":{"datum":88.57}}},
{"data":{"values":[{"condition":"Control","kb":-3.255,"row":36.29},{"condition":"Rosi","kb":-3.396,"row":67.71},{"condition":"10min","kb":-3.16,"row":78.0}]},"mark":{"type":"text","align":"center","baseline":"alphabetic","fontSize":28},"encoding":{"x":{"field":"kb","type":"quantitative","scale":{"domain":[0,26.7],"range":[227,793],"nice":false,"zero":false},"axis":null},"y":{"field":"row","type":"quantitative","scale":{"domain":[0,100],"range":[550,900],"nice":false,"zero":false},"axis":null},"text":{"field":"condition"}}},
{"data":{"values":[{"strand":"plus","max":"30","row":21.43},{"strand":"minus","max":"-30","row":49.14},{"strand":"plus","max":"30","row":59.43},{"strand":"minus","max":"-30","row":86.57}]},"mark":{"type":"text","align":"right","baseline":"alphabetic","fontSize":21},"encoding":{"x":{"datum":26.509,"type":"quantitative","scale":{"domain":[0,26.7],"range":[227,793],"nice":false,"zero":false},"axis":null},"y":{"field":"row","type":"quantitative","scale":{"domain":[0,100],"range":[550,900],"nice":false,"zero":false},"axis":null},"text":{"field":"max"},"color":{"field":"strand","type":"nominal","scale":{"domain":["plus","minus"],"range":["#3333ff","#ff2a2a"]},"legend":null}}},
{"data":{"values":[{}]},"mark":{"type":"rule","color":"#7b7bff","strokeWidth":1.5},"encoding":{"x":{"datum":1.934,"type":"quantitative","scale":{"domain":[0,26.7],"range":[227,793],"nice":false,"zero":false},"axis":null},"x2":{"datum":26.698},"y":{"datum":94.86,"type":"quantitative","scale":{"domain":[0,100],"range":[550,900],"nice":false,"zero":false},"axis":null}}},
{"data":{"values":[{"feature":"exon 1","start":1.226,"end":1.934},{"feature":"last exon","start":24.198,"end":24.717}]},"mark":{"type":"rect","color":"#0000bb"},"encoding":{"x":{"field":"start","type":"quantitative","scale":{"domain":[0,26.7],"range":[227,793],"nice":false,"zero":false},"axis":null},"x2":{"field":"end"},"y":{"datum":93.3,"type":"quantitative","scale":{"domain":[0,100],"range":[550,900],"nice":false,"zero":false},"axis":null},"y2":{"datum":96.4}}},
{"data":{"values":[{"kb":2.736},{"kb":4.292},{"kb":5.896},{"kb":7.453},{"kb":8.962},{"kb":10.519},{"kb":12.075},{"kb":13.679},{"kb":15.236},{"kb":16.792},{"kb":18.349},{"kb":19.858},{"kb":21.462},{"kb":23.019},{"kb":25.425}]},"mark":{"type":"point","shape":"triangle-right","filled":true,"size":12,"color":"#4d4dff","opacity":1},"encoding":{"x":{"field":"kb","type":"quantitative","scale":{"domain":[0,26.7],"range":[227,793],"nice":false,"zero":false},"axis":null},"y":{"datum":94.86,"type":"quantitative","scale":{"domain":[0,100],"range":[550,900],"nice":false,"zero":false},"axis":null}}},
{"data":{"values":[{}]},"mark":{"type":"text","text":"Klb","fontStyle":"italic","fontSize":29,"align":"right","baseline":"alphabetic"},"encoding":{"x":{"datum":0.66,"type":"quantitative","scale":{"domain":[0,26.7],"range":[227,793],"nice":false,"zero":false},"axis":null},"y":{"datum":97.71,"type":"quantitative","scale":{"domain":[0,100],"range":[550,900],"nice":false,"zero":false},"axis":null}}},
{"data":{"values":[{}]},"mark":{"type":"text","text":"C","fontWeight":"bold","fontSize":37,"align":"left","baseline":"alphabetic","color":"#000"},"encoding":{"x":{"datum":-10.33,"type":"quantitative","scale":{"domain":[0,26.7],"range":[227,793],"nice":false,"zero":false},"axis":null},"y":{"datum":10.0,"type":"quantitative","scale":{"domain":[0,100],"range":[550,900],"nice":false,"zero":false},"axis":null}}},
{"data":{"values":[{}]},"mark":{"type":"text","text":"GRO-seq - 3T3-L1 adipocytes","fontSize":28,"align":"left","baseline":"alphabetic","color":"#333"},"encoding":{"x":{"datum":-6.462,"type":"quantitative","scale":{"domain":[0,26.7],"range":[227,793],"nice":false,"zero":false},"axis":null},"y":{"datum":9.14,"type":"quantitative","scale":{"domain":[0,100],"range":[550,900],"nice":false,"zero":false},"axis":null}}},
{"data":{"values":[{}]},"mark":{"type":"text","text":"5kb","fontSize":27,"align":"center","baseline":"alphabetic","color":"#222"},"encoding":{"x":{"datum":24.06,"type":"quantitative","scale":{"domain":[0,26.7],"range":[227,793],"nice":false,"zero":false},"axis":null},"y":{"datum":9.14,"type":"quantitative","scale":{"domain":[0,100],"range":[550,900],"nice":false,"zero":false},"axis":null}}},
{"data":{"values":[{}]},"mark":{"type":"rule","color":"#333","strokeWidth":1.5},"encoding":{"x":{"datum":21.698,"type":"quantitative","scale":{"domain":[0,26.7],"range":[227,793],"nice":false,"zero":false},"axis":null},"x2":{"datum":26.698},"y":{"datum":12.0,"type":"quantitative","scale":{"domain":[0,100],"range":[550,900],"nice":false,"zero":false},"axis":null}}},

{"data":{"values":[{}]},"mark":{"type":"rect","fillOpacity":0,"stroke":"#555555","strokeWidth":1.5},"encoding":{"x":{"datum":0,"type":"quantitative","scale":{"domain":[0,1],"range":[213,548],"nice":false,"zero":false},"axis":null},"x2":{"datum":1},"y":{"datum":0,"type":"quantitative","scale":{"domain":[0,2.09],"range":[1262,959],"nice":false,"zero":false},"axis":null},"y2":{"datum":2.09}}},
{"data":{"values":[{"level":0},{"level":1},{"level":2}]},"mark":{"type":"rule","color":"#555555","strokeWidth":1.5},"encoding":{"x":{"datum":-0.03,"type":"quantitative","scale":{"domain":[0,1],"range":[213,548],"nice":false,"zero":false},"axis":null},"x2":{"datum":0},"y":{"field":"level","type":"quantitative","scale":{"domain":[0,2.09],"range":[1262,959],"nice":false,"zero":false},"axis":null}}},
{"data":{"values":[{"level":0},{"level":1},{"level":2}]},"mark":{"type":"text","align":"right","baseline":"middle","fontSize":25,"dy":-2,"color":"#333"},"encoding":{"x":{"datum":-0.066,"type":"quantitative","scale":{"domain":[0,1],"range":[213,548],"nice":false,"zero":false},"axis":null},"y":{"field":"level","type":"quantitative","scale":{"domain":[0,2.09],"range":[1262,959],"nice":false,"zero":false},"axis":null},"text":{"field":"level"}}},
{"data":{"values":[{}]},"mark":{"type":"text","text":"Klb","fontStyle":"italic","fontSize":27,"angle":270,"align":"left","baseline":"alphabetic"},"encoding":{"x":{"datum":-0.346,"type":"quantitative","scale":{"domain":[0,1],"range":[213,548],"nice":false,"zero":false},"axis":null},"y":{"datum":0.048,"type":"quantitative","scale":{"domain":[0,2.09],"range":[1262,959],"nice":false,"zero":false},"axis":null}}},
{"data":{"values":[{}]},"mark":{"type":"text","text":"gene expression","fontSize":27,"angle":270,"align":"left","baseline":"alphabetic"},"encoding":{"x":{"datum":-0.346,"type":"quantitative","scale":{"domain":[0,1],"range":[213,548],"nice":false,"zero":false},"axis":null},"y":{"datum":0.386,"type":"quantitative","scale":{"domain":[0,2.09],"range":[1262,959],"nice":false,"zero":false},"axis":null}}},
{"data":{"values":[{}]},"mark":{"type":"text","text":"(Relative to siSCR)","fontSize":27,"angle":270,"align":"center","baseline":"alphabetic"},"encoding":{"x":{"datum":-0.23,"type":"quantitative","scale":{"domain":[0,1],"range":[213,548],"nice":false,"zero":false},"axis":null},"y":{"datum":1.048,"type":"quantitative","scale":{"domain":[0,2.09],"range":[1262,959],"nice":false,"zero":false},"axis":null}}},
{"data":{"values":[{}]},"mark":{"type":"rect","color":"#000000"},"encoding":{"x":{"datum":0.036,"type":"quantitative","scale":{"domain":[0,1],"range":[213,548],"nice":false,"zero":false},"axis":null},"x2":{"datum":0.1015},"y":{"datum":1.786,"type":"quantitative","scale":{"domain":[0,2.09],"range":[1262,959],"nice":false,"zero":false},"axis":null},"y2":{"datum":1.924}}},
{"data":{"values":[{}]},"mark":{"type":"rect","fill":"#ffffff","stroke":"#333333","strokeWidth":1.5},"encoding":{"x":{"datum":0.036,"type":"quantitative","scale":{"domain":[0,1],"range":[213,548],"nice":false,"zero":false},"axis":null},"x2":{"datum":0.1015},"y":{"datum":1.545,"type":"quantitative","scale":{"domain":[0,2.09],"range":[1262,959],"nice":false,"zero":false},"axis":null},"y2":{"datum":1.703}}},
{"data":{"values":[{}]},"mark":{"type":"text","text":"siSCR","fontSize":28,"align":"left","baseline":"alphabetic"},"encoding":{"x":{"datum":0.131,"type":"quantitative","scale":{"domain":[0,1],"range":[213,548],"nice":false,"zero":false},"axis":null},"y":{"datum":1.786,"type":"quantitative","scale":{"domain":[0,2.09],"range":[1262,959],"nice":false,"zero":false},"axis":null}}},
{"data":{"values":[{}]},"mark":{"type":"text","text":"siPPARγ","fontSize":28,"align":"left","baseline":"alphabetic"},"encoding":{"x":{"datum":0.128,"type":"quantitative","scale":{"domain":[0,1],"range":[213,548],"nice":false,"zero":false},"axis":null},"y":{"datum":1.552,"type":"quantitative","scale":{"domain":[0,2.09],"range":[1262,959],"nice":false,"zero":false},"axis":null}}},
{"data":{"values":[{}]},"mark":{"type":"text","text":"D","fontWeight":"bold","fontSize":37,"align":"left","baseline":"alphabetic","color":"#000"},"encoding":{"x":{"datum":-0.627,"type":"quantitative","scale":{"domain":[0,1],"range":[213,548],"nice":false,"zero":false},"axis":null},"y":{"datum":2.069,"type":"quantitative","scale":{"domain":[0,2.09],"range":[1262,959],"nice":false,"zero":false},"axis":null}}},
{"data":{"name":"expr"},"mark":{"type":"bar","stroke":"#333333","strokeWidth":1.5},"encoding":{"x":{"field":"group","type":"nominal","scale":{"domain":["siSCR","siPPARγ"],"range":[213,548],"paddingInner":0.59,"paddingOuter":0.3},"axis":null},"y":{"field":"mean","type":"quantitative","scale":{"domain":[0,2.09],"range":[1262,959],"nice":false,"zero":false},"axis":null},"fill":{"field":"group","type":"nominal","scale":{"domain":["siSCR","siPPARγ"],"range":["#000000","#ffffff"]},"legend":null}}},
{"data":{"name":"expr"},"mark":{"type":"errorbar","color":"#000000","ticks":{"size":18}},"encoding":{"x":{"field":"group","type":"nominal","scale":{"domain":["siSCR","siPPARγ"],"range":[213,548],"paddingInner":0.59,"paddingOuter":0.3},"axis":null},"y":{"field":"mean","type":"quantitative","scale":{"domain":[0,2.09],"range":[1262,959],"nice":false,"zero":false},"axis":null},"yError":{"field":"sd"}}},
{"data":{"name":"expr"},"mark":{"type":"text","fontSize":30,"fontWeight":"bold","dy":-19,"align":"center","baseline":"alphabetic","color":"#000"},"encoding":{"x":{"field":"group","type":"nominal","scale":{"domain":["siSCR","siPPARγ"],"range":[213,548],"paddingInner":0.59,"paddingOuter":0.3},"axis":null},"y":{"field":"mean","type":"quantitative","scale":{"domain":[0,2.09],"range":[1262,959],"nice":false,"zero":false},"axis":null},"text":{"field":"sig"}}}
]
}
